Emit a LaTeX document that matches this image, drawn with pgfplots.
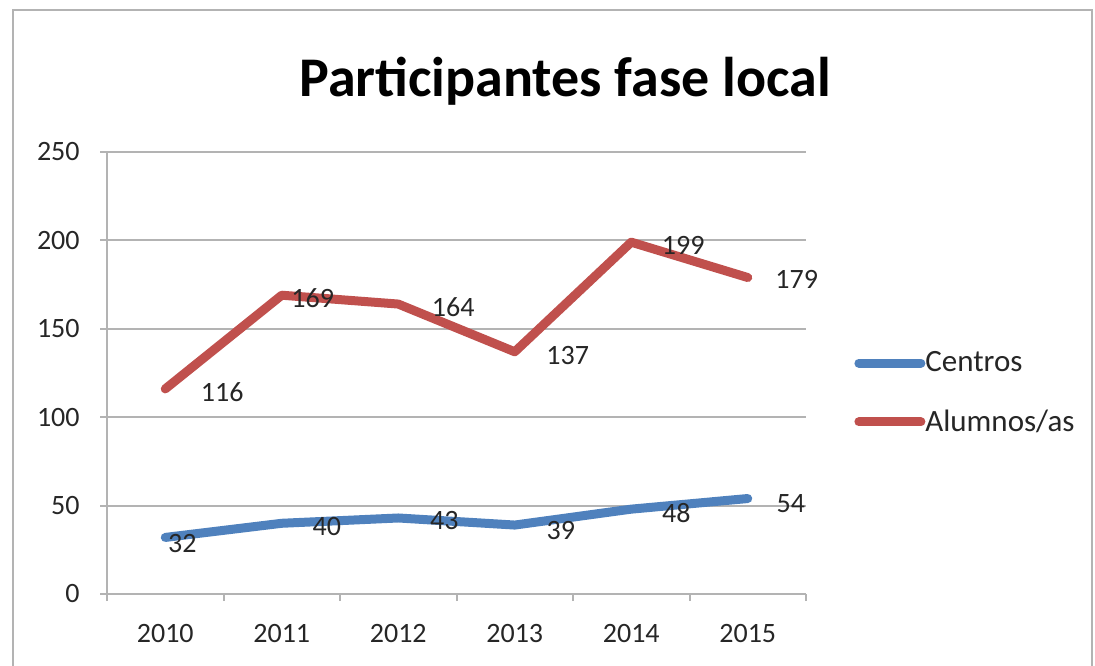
\documentclass[border=0pt]{standalone}
\usepackage{pgfplots}
\pgfplotsset{compat=1.18}
\usepackage{pgfplotstable}
\usepackage{fontspec}
\setmainfont{Carlito}
\definecolor{cblue}{HTML}{4F81BD}
\definecolor{cred}{HTML}{C0504D}
\definecolor{gridc}{HTML}{B3B3B3}

\pgfplotstableread{
x y lab dx dy
0 32 32 8.5 -3
1 40 40 22.5 -1.5
2 43 43 23 -1.5
3 39 39 23 -2.5
4 48 48 22.5 -2
5 54 54 21.5 -2.5
}\centros

\pgfplotstableread{
x y lab dx dy
0 116 116 28.5 -1.5
1 169 169 15.5 -1.5
2 164 164 27.5 -1.5
3 137 137 26.5 -2
4 199 199 26 -1.5
5 179 179 24.5 -1
}\alumnos

\begin{document}
\begin{tikzpicture}
\path[use as bounding box] (0,0) rectangle (547.5pt,332.5pt);
\draw[gridc, line width=1pt] (6.5pt,-5pt) rectangle (546pt,327.5pt);
\node[font=\fontsize{28}{32}\selectfont\bfseries] at (282.5pt,292pt) {Participantes fase local};
\begin{axis}[
  at={(53.5pt,35.5pt)}, anchor=south west, scale only axis,
  width=349.5pt, height=221pt,
  xmin=-0.5, xmax=5.5, ymin=0, ymax=250,
  xtick={0,1,2,3,4,5},
  xticklabels={2010,2011,2012,2013,2014,2015},
  minor xtick={-0.5,0.5,1.5,2.5,3.5,4.5,5.5},
  every major x tick/.append style={draw=none},
  ytick={0,50,100,150,200,250},
  ymajorgrids, grid style={gridc, line width=1pt},
  axis x line*=bottom, axis y line*=left,
  axis line style={gridc, line width=1pt},
  tick align=outside, tick style={gridc, line width=1pt},
  major tick length=3.5pt, minor tick length=3.5pt,
  ticklabel style={font=\fontsize{14}{16}\selectfont, text=black!85},
  yticklabel style={inner sep=0pt, xshift=-10pt},
  xticklabel style={inner sep=0pt, yshift=-11.5pt},
  /pgf/number format/assume math mode=true,
  legend image code/.code={\draw[#1, line cap=round] (0pt,0pt) -- (31pt,0pt);},
  legend style={draw=none, at={(1,0.455)}, anchor=west, xshift=24pt,
    inner sep=0pt, row sep=17.5pt, font=\fontsize{15.5}{17}\selectfont,
    cells={anchor=west}, nodes={inner sep=0pt, text=black!85}},
]
\addplot[cblue, line width=4.5pt, line cap=round, line join=round,
  nodes near coords, point meta=explicit symbolic,
  visualization depends on={\thisrow{dx} \as \dx},
  visualization depends on={\thisrow{dy} \as \dy},
  nodes near coords style={anchor=center, xshift=\dx pt, yshift=\dy pt,
    font=\fontsize{14}{16}\selectfont, text=black!85}]
  table[x=x, y=y, meta=lab] {\centros};
\addlegendentry{Centros}
\addplot[cred, line width=4.5pt, line cap=round, line join=round,
  nodes near coords, point meta=explicit symbolic,
  visualization depends on={\thisrow{dx} \as \dx},
  visualization depends on={\thisrow{dy} \as \dy},
  nodes near coords style={anchor=center, xshift=\dx pt, yshift=\dy pt,
    font=\fontsize{14}{16}\selectfont, text=black!85}]
  table[x=x, y=y, meta=lab] {\alumnos};
\addlegendentry{Alumnos/as}
\end{axis}
\end{tikzpicture}
\end{document}
